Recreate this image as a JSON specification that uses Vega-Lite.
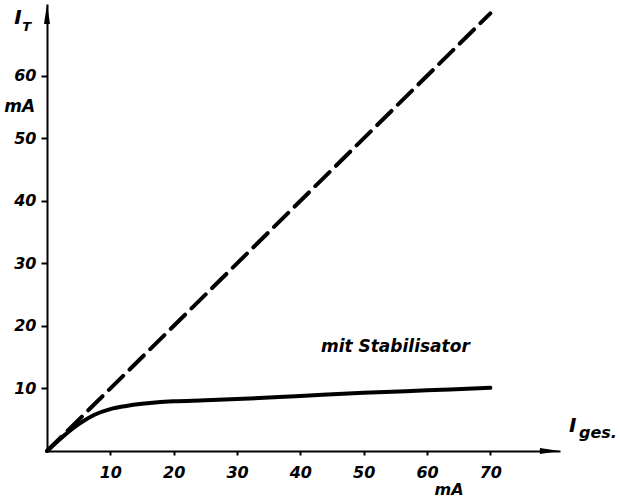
{
  "$schema": "https://vega.github.io/schema/vega-lite/v6.json",
  "width": 513,
  "height": 447,
  "autosize": "none",
  "padding": {"left": 47, "top": 4, "right": 60, "bottom": 49},
  "background": "white",
  "config": {
    "view": {"stroke": null},
    "axis": {
      "grid": false,
      "domainColor": "black",
      "domainWidth": 2,
      "tickColor": "black",
      "tickWidth": 2,
      "labelFont": "DejaVu Sans",
      "labelFontStyle": "italic",
      "labelFontWeight": "bold",
      "labelFontSize": 16,
      "labelColor": "black",
      "title": null
    },
    "text": {"font": "DejaVu Sans", "fontStyle": "italic", "fontWeight": "bold", "color": "black"}
  },
  "datasets": {
    "diag": [
      {"I_ges": 0, "I_T": 0},
      {"I_ges": 70, "I_T": 70}
    ],
    "stab": [
      {"I_ges": 0, "I_T": 0},
      {"I_ges": 2.5, "I_T": 2.3},
      {"I_ges": 5, "I_T": 4.3},
      {"I_ges": 7.5, "I_T": 5.8},
      {"I_ges": 10, "I_T": 6.7},
      {"I_ges": 12.5, "I_T": 7.2},
      {"I_ges": 15, "I_T": 7.55},
      {"I_ges": 17.5, "I_T": 7.8},
      {"I_ges": 20, "I_T": 7.95},
      {"I_ges": 25, "I_T": 8.1},
      {"I_ges": 30, "I_T": 8.3},
      {"I_ges": 40, "I_T": 8.8},
      {"I_ges": 50, "I_T": 9.3},
      {"I_ges": 60, "I_T": 9.7},
      {"I_ges": 70, "I_T": 10.1}
    ]
  },
  "layer": [
    {
      "data": {"name": "diag"},
      "mark": {"type": "line", "color": "black", "strokeWidth": 4, "strokeDash": [20, 9], "strokeCap": "round"},
      "encoding": {
        "x": {"field": "I_ges", "type": "quantitative", "scale": {"domain": [0, 81], "nice": false},
          "axis": {"values": [10, 20, 30, 40, 50, 60, 70], "tickSize": 4, "labelPadding": 9}},
        "y": {"field": "I_T", "type": "quantitative", "scale": {"domain": [0, 71.5], "nice": false},
          "axis": {"values": [10, 20, 30, 40, 50, 60], "tickSize": 6, "labelPadding": 5}}
      }
    },
    {
      "data": {"name": "stab"},
      "mark": {"type": "line", "color": "black", "strokeWidth": 4, "interpolate": "monotone", "strokeCap": "round"},
      "encoding": {
        "x": {"field": "I_ges", "type": "quantitative"},
        "y": {"field": "I_T", "type": "quantitative"}
      }
    },
    {
      "data": {"values": [{"x": 79.4, "y": 0}]},
      "mark": {"type": "point", "filled": true, "color": "black", "opacity": 1, "size": 400, "shape": "M1,0L-1,-0.3L-1,0.3Z"},
      "encoding": {"x": {"field": "x", "type": "quantitative"}, "y": {"field": "y", "type": "quantitative"}}
    },
    {
      "data": {"values": [{"x": 0, "y": 69.9}]},
      "mark": {"type": "point", "filled": true, "color": "black", "opacity": 1, "size": 400, "shape": "M0,-1L-0.3,1L0.3,1Z"},
      "encoding": {"x": {"field": "x", "type": "quantitative"}, "y": {"field": "y", "type": "quantitative"}}
    },
    {
      "data": {"values": [
        {"x": -4.6, "y": 69.3, "t": "I"},
        {"x": 83.0, "y": 4.0, "t": "I"}
      ]},
      "mark": {"type": "text", "fontSize": 20, "align": "center", "baseline": "middle"},
      "encoding": {"x": {"field": "x", "type": "quantitative"}, "y": {"field": "y", "type": "quantitative"}, "text": {"field": "t"}}
    },
    {
      "data": {"values": [{"x": -3.2, "y": 67.9, "t": "T"}]},
      "mark": {"type": "text", "fontSize": 13, "align": "center", "baseline": "middle"},
      "encoding": {"x": {"field": "x", "type": "quantitative"}, "y": {"field": "y", "type": "quantitative"}, "text": {"field": "t"}}
    },
    {
      "data": {"values": [
        {"x": 84.0, "y": 2.9, "t": "ges."},
        {"x": 61.2, "y": -6.3, "t": "mA"}
      ]},
      "mark": {"type": "text", "fontSize": 16, "align": "left", "baseline": "middle"},
      "encoding": {"x": {"field": "x", "type": "quantitative"}, "y": {"field": "y", "type": "quantitative"}, "text": {"field": "t"}}
    },
    {
      "data": {"values": [
        {"x": -4.3, "y": 55.0, "t": "mA"},
        {"x": 55.0, "y": 16.6, "t": "mit Stabilisator"}
      ]},
      "mark": {"type": "text", "fontSize": 17, "align": "center", "baseline": "middle"},
      "encoding": {"x": {"field": "x", "type": "quantitative"}, "y": {"field": "y", "type": "quantitative"}, "text": {"field": "t"}}
    }
  ]
}
